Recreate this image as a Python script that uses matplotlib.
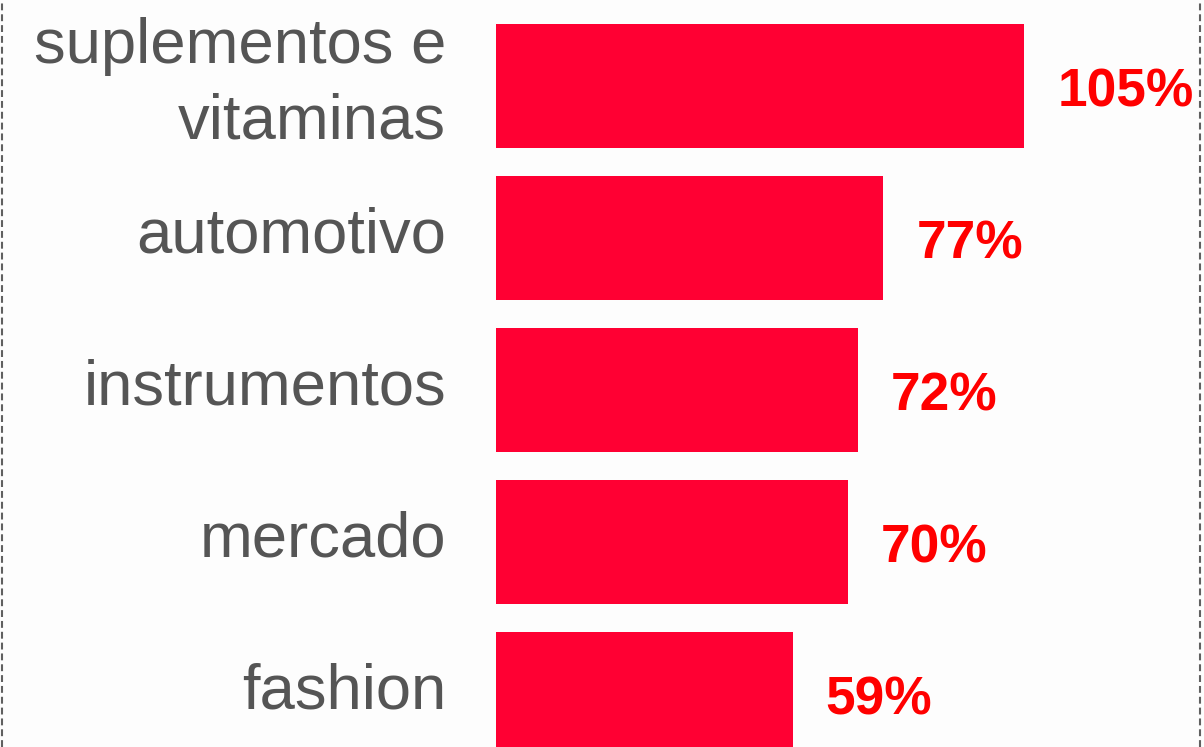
import matplotlib
matplotlib.use("Agg")
import matplotlib.pyplot as plt
from matplotlib.lines import Line2D
from matplotlib.transforms import offset_copy

categories = ["suplementos e\nvitaminas", "automotivo", "instrumentos", "mercado", "fashion"]
values = [105, 77, 72, 70, 59]
value_labels = ["105%", "77%", "72%", "70%", "59%"]

W, H, DPI = 1204, 747, 100
fig = plt.figure(figsize=(W / DPI, H / DPI), dpi=DPI)
fig.patch.set_facecolor("#FDFDFD")

left_px = 496
px_per_unit = 5.03
ax = fig.add_axes([left_px / W, 0, 1 - left_px / W, 1])
ax.set_facecolor("none")

pos = list(range(len(categories)))
ax.barh(pos, values, height=0.816, color="#FF0033")

ax.set_xlim(0, (W - left_px) / px_per_unit)
pitch = 152
first_center = 86
ax.set_ylim((H - first_center) / pitch, -first_center / pitch)
ax.set_xticks([])
ax.set_yticks([])
for s in ax.spines.values():
    s.set_visible(False)

fam = ["Liberation Sans", "DejaVu Sans"]
line_gap = 75
for p, cat in zip(pos, categories):
    lines = cat.split("\n")
    n = len(lines)
    for k, line in enumerate(lines):
        dy = 14.5 + (k - (n - 1) / 2) * line_gap
        tr = offset_copy(ax.transData, fig=fig, x=-50, y=-dy, units="dots")
        ax.text(0, p, line, transform=tr, ha="right", va="baseline",
                fontsize=45.6, color="#555555", family=fam)

for p, v, lab in zip(pos, values, value_labels):
    tr = offset_copy(ax.transData, fig=fig, x=33, y=-20.5, units="dots")
    ax.text(v, p, lab, transform=tr, ha="left", va="baseline", fontsize=38.3,
            fontweight="bold", color="#FF0000", family=fam)

for xp in (2, 1199.5):
    fig.add_artist(Line2D([xp / W, xp / W], [0, 1], transform=fig.transFigure,
                          color="#606060", linewidth=1.5, dashes=(3.3, 1.9)))

fig.savefig("out.png", dpi=DPI, facecolor=fig.get_facecolor())
